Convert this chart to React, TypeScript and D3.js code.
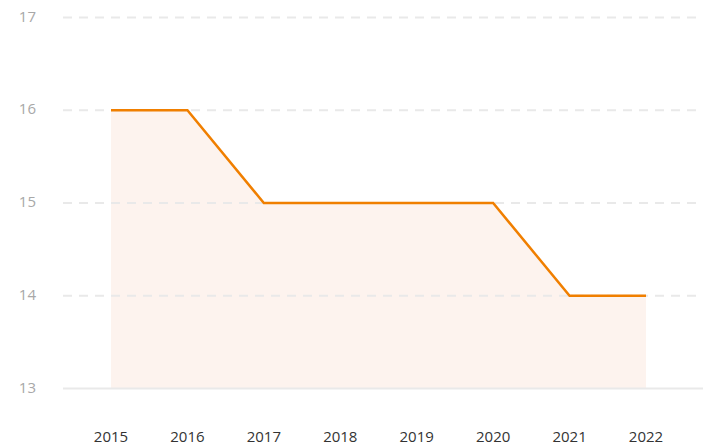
import React from "react";
import * as d3 from "d3";

const years = ["2015", "2016", "2017", "2018", "2019", "2020", "2021", "2022"];
const values = [16, 16, 15, 15, 15, 15, 14, 14];
const yTicks = [13, 14, 15, 16, 17];

const width = 715;
const height = 448;

const App = () => {
  const x = d3.scalePoint<string>().domain(years).range([111, 646]);
  const y = d3.scaleLinear().domain([13, 17]).range([388.5, 17.5]);

  const pts: [string, number][] = years.map((yr, i) => [yr, values[i]]);

  const line = d3
    .line<[string, number]>()
    .x((d) => x(d[0]) as number)
    .y((d) => y(d[1]));

  const area = d3
    .area<[string, number]>()
    .x((d) => x(d[0]) as number)
    .y0(y(13))
    .y1((d) => y(d[1]));

  return (
    <svg
      width={width}
      height={height}
      style={{ position: "absolute", left: 0, top: 0, fontFamily: "'Open Sans', sans-serif" }}
    >
      <path d={area(pts) || ""} fill="#fdf3ee" />
      {yTicks.map((t) => (
        <g key={t}>
          <line
            x1={63}
            x2={703}
            y1={y(t)}
            y2={y(t)}
            stroke="#e9e9e9"
            strokeWidth={2}
            strokeDasharray={t === 13 ? undefined : "9 7"}
          />
          <text x={36} y={y(t) + 4} textAnchor="end" fontSize={15} fill="#a8a8a8">
            {t}
          </text>
        </g>
      ))}
      <path d={line(pts) || ""} fill="none" stroke="#f07f00" strokeWidth={2.5} strokeLinejoin="miter" />
      {years.map((yr) => (
        <text key={yr} x={x(yr)} y={442} textAnchor="middle" fontSize={15} fill="#333">
          {yr}
        </text>
      ))}
    </svg>
  );
};

export default App;
